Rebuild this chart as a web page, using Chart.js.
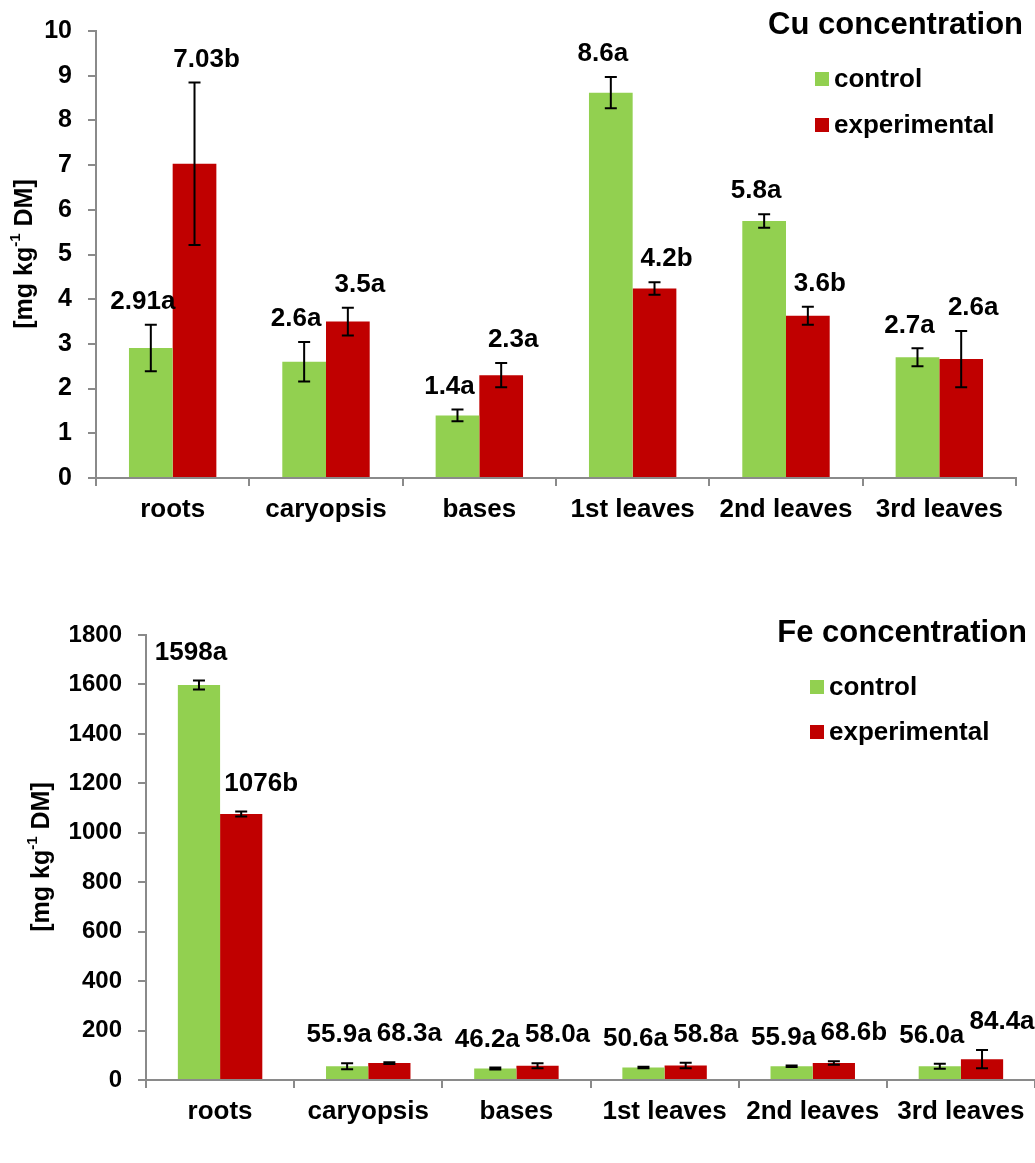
<!DOCTYPE html>
<html>
<head>
<meta charset="utf-8">
<title>Cu and Fe concentration</title>
<script src="https://cdn.jsdelivr.net/npm/chart.js@4.4.0/dist/chart.umd.min.js"></script>
<style>
  html, body { margin: 0; padding: 0; background: #fff; }
  .box { position: absolute; left: 0; }
</style>
</head>
<body>
<div class="box" style="top:0"><canvas id="cuChart" width="1035" height="560"></canvas></div>
<div class="box" style="top:600px"><canvas id="feChart" width="1035" height="563"></canvas></div>
<script>
// plant parts
const categories = ['roots', 'caryopsis', 'bases', '1st leaves', '2nd leaves', '3rd leaves']
const seriesNames = ['control', 'experimental']

// Cu [mg kg-1 DM]
const cuControl = [2.91, 2.6, 1.4, 8.62, 5.75, 2.7]
const cuControlErr = [0.52, 0.44, 0.13, 0.35, 0.15, 0.2]
const cuExperimental = [7.03, 3.5, 2.3, 4.24, 3.63, 2.66]
const cuExperimentalErr = [1.82, 0.31, 0.27, 0.14, 0.2, 0.63]
const cuControlTags = ['2.91a', '2.6a', '1.4a', '8.6a', '5.8a', '2.7a']
const cuExperimentalTags = ['7.03b', '3.5a', '2.3a', '4.2b', '3.6b', '2.6a']
const cuTicks = [0, 1, 2, 3, 4, 5, 6, 7, 8, 9, 10]

// Fe [mg kg-1 DM]
const feControl = [1598, 55.9, 46.2, 50.6, 55.9, 56.0]
const feControlErr = [18, 12, 4, 3, 3, 10]
const feExperimental = [1076, 68.3, 58.0, 58.8, 68.6, 84.4]
const feExperimentalErr = [10, 4, 10, 11, 7, 37]
const feControlTags = ['1598a', '55.9a', '46.2a', '50.6a', '55.9a', '56.0a']
const feExperimentalTags = ['1076b', '68.3a', '58.0a', '58.8a', '68.6b', '84.4a']
const feTicks = [0, 200, 400, 600, 800, 1000, 1200, 1400, 1600, 1800]

const GREEN = '#92D050'
const RED = '#C00000'
const AXIS = '#8a8a8a'
const FONT = '"Liberation Sans", Arial, sans-serif'

// error bars + the value/letter tags above them
const errorBarPlugin = {
  id: 'errorBars',
  afterDatasetsDraw(chart, args, opts) {
    const ctx = chart.ctx
    const y = chart.scales.y
    ctx.save()
    chart.data.datasets.forEach((ds, i) => {
      const meta = chart.getDatasetMeta(i)
      meta.data.forEach((bar, j) => {
        const v = ds.data[j]
        const e = ds.errors[j]
        const top = y.getPixelForValue(v + e)
        const bot = y.getPixelForValue(v - e)
        ctx.strokeStyle = '#000'
        ctx.lineWidth = 2
        ctx.beginPath()
        ctx.moveTo(bar.x, top)
        ctx.lineTo(bar.x, bot)
        ctx.moveTo(bar.x - 6, top)
        ctx.lineTo(bar.x + 6, top)
        ctx.moveTo(bar.x - 6, bot)
        ctx.lineTo(bar.x + 6, bot)
        ctx.stroke()

        ctx.fillStyle = '#000'
        ctx.font = 'bold 26px ' + FONT
        ctx.textAlign = 'center'
        ctx.textBaseline = 'middle'
        ctx.fillText(ds.tags[j], bar.x + ds.tagShift, top - opts.lift)
      })
    })
    ctx.restore()
  },
}

// title, legend and rotated axis title with superscript
const decorPlugin = {
  id: 'decor',
  afterDraw(chart, args, opts) {
    const ctx = chart.ctx
    ctx.save()
    ctx.fillStyle = '#000'
    ctx.textBaseline = 'middle'

    ctx.font = 'bold 31px ' + FONT
    ctx.textAlign = 'right'
    ctx.fillText(opts.title, opts.titleX, opts.titleY)

    ctx.font = 'bold 26px ' + FONT
    ctx.textAlign = 'left'
    chart.data.datasets.forEach((ds, i) => {
      const cy = opts.legendY + i * opts.legendGap
      ctx.fillStyle = ds.backgroundColor
      ctx.fillRect(opts.legendX, cy - 7, 14, 14)
      ctx.fillStyle = '#000'
      ctx.fillText(ds.label, opts.legendX + 19, cy + 1)
    })

    // [mg kg-1 DM]
    ctx.translate(opts.axisX, opts.axisY)
    ctx.rotate(-Math.PI / 2)
    const big = 'bold 25px ' + FONT
    const small = 'bold 15px ' + FONT
    const parts = [['[mg kg', big, 0], ['-1', small, -9], [' DM]', big, 0]]
    let total = 0
    parts.forEach(p => { ctx.font = p[1]; total += ctx.measureText(p[0]).width })
    let x = -total / 2
    parts.forEach(p => {
      ctx.font = p[1]
      ctx.fillText(p[0], x, p[2])
      x += ctx.measureText(p[0]).width
    })
    ctx.restore()
  },
}

function makeChart(id, sets, scale, layout) {
  return new Chart(document.getElementById(id), {
    type: 'bar',
    data: {
      labels: categories,
      datasets: [
        {
          label: seriesNames[0],
          data: sets.control,
          errors: sets.controlErr,
          tags: sets.controlTags,
          tagShift: -8,
          backgroundColor: GREEN,
        },
        {
          label: seriesNames[1],
          data: sets.experimental,
          errors: sets.experimentalErr,
          tags: sets.experimentalTags,
          tagShift: layout.expShift,
          backgroundColor: RED,
        },
      ],
    },
    options: {
      responsive: false,
      animation: false,
      events: [],
      categoryPercentage: 0.57,
      barPercentage: 1,
      layout: { padding: { left: 0, top: layout.top, right: layout.right, bottom: 0 } },
      plugins: {
        legend: { display: false },
        tooltip: { enabled: false },
        errorBars: { lift: layout.lift },
        decor: layout.decor,
      },
      scales: {
        x: {
          grid: {
            drawOnChartArea: false,
            drawTicks: true,
            tickLength: 8,
            color: AXIS,
            lineWidth: 2,
          },
          border: { color: AXIS, width: 2 },
          ticks: {
            color: '#000',
            padding: 8,
            maxRotation: 0,
            autoSkip: false,
            font: { family: FONT, size: 26, weight: 'bold' },
          },
          afterFit(s) { s.height = layout.xHeight },
        },
        y: {
          min: scale.ticks[0],
          max: scale.ticks[scale.ticks.length - 1],
          afterBuildTicks(s) { s.ticks = scale.ticks.map(v => ({ value: v })) },
          grid: {
            drawOnChartArea: false,
            drawTicks: true,
            tickLength: 8,
            color: AXIS,
            lineWidth: 2,
          },
          border: { color: AXIS, width: 2 },
          ticks: {
            color: '#000',
            padding: 16,
            callback: v => String(v),
            font: { family: FONT, size: scale.fontSize, weight: 'bold' },
          },
          afterFit(s) { s.width = layout.yWidth },
        },
      },
    },
    plugins: [errorBarPlugin, decorPlugin],
  })
}

makeChart('cuChart',
  {
    control: cuControl, controlErr: cuControlErr, controlTags: cuControlTags,
    experimental: cuExperimental, experimentalErr: cuExperimentalErr, experimentalTags: cuExperimentalTags,
  },
  { ticks: cuTicks, fontSize: 25 },
  {
    top: 30, right: 19, xHeight: 82, yWidth: 96, lift: 23, expShift: 12,
    decor: {
      title: 'Cu concentration', titleX: 1023, titleY: 25,
      legendX: 815, legendY: 79, legendGap: 46,
      axisX: 25, axisY: 254,
    },
  })

makeChart('feChart',
  {
    control: feControl, controlErr: feControlErr, controlTags: feControlTags,
    experimental: feExperimental, experimentalErr: feExperimentalErr, experimentalTags: feExperimentalTags,
  },
  { ticks: feTicks, fontSize: 24 },
  {
    top: 35, right: 0, xHeight: 83, yWidth: 146, lift: 28, expShift: 20,
    decor: {
      title: 'Fe concentration', titleX: 1027, titleY: 33,
      legendX: 810, legendY: 87, legendGap: 45,
      axisX: 42, axisY: 257,
    },
  })
</script>
</body>
</html>
